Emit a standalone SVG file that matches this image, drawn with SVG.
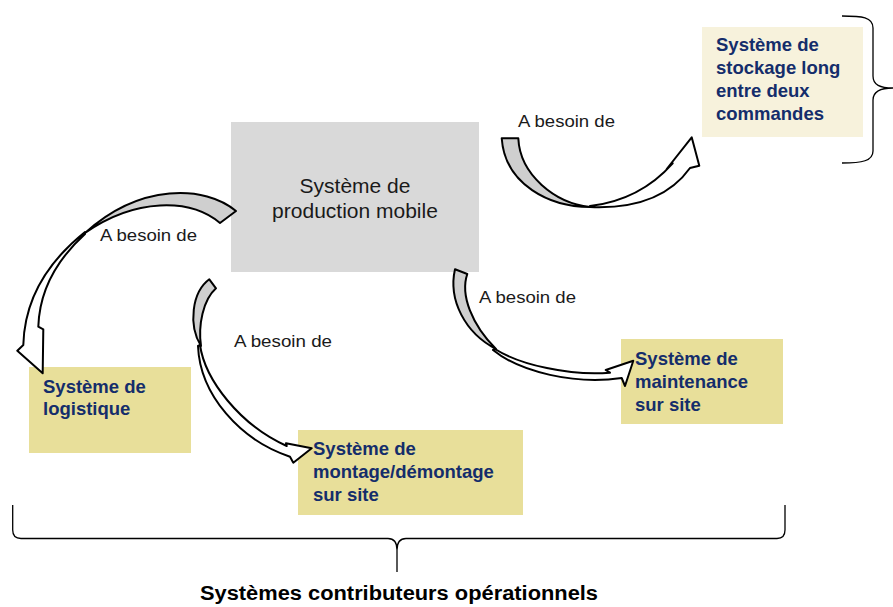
<svg xmlns="http://www.w3.org/2000/svg" width="893" height="607" viewBox="0 0 893 607">
<style>
.box{fill:#e8df9a}
.bt{font-family:"Liberation Sans",Arial,sans-serif;font-weight:bold;font-size:18.5px;fill:#142d6b}
.lbl{font-family:"Liberation Sans",Arial,sans-serif;font-size:16.5px;fill:#1a1a1a}
.body{fill:#ffffff;stroke:#000;stroke-width:2;stroke-linejoin:round}
.tail{fill:#cfcfcf;stroke:#000;stroke-width:2;stroke-linejoin:round}
.brace{fill:none;stroke:#000;stroke-width:1.3}
</style>
<rect width="893" height="607" fill="#ffffff"/>

<g id="production">
  <rect x="231" y="122" width="248" height="150" fill="#d9d9d9"/>
  <text x="355" y="193" text-anchor="middle" font-family="Liberation Sans, Arial, sans-serif" font-size="21" fill="#1a1a1a">Système de</text>
  <text x="355" y="218" text-anchor="middle" font-family="Liberation Sans, Arial, sans-serif" font-size="21" fill="#1a1a1a">production mobile</text>
</g>

<g id="stockage">
  <rect x="702" y="27" width="161" height="110" fill="#f7f2dc"/>
  <text class="bt" x="716" y="51">Système de</text>
  <text class="bt" x="716" y="74">stockage long</text>
  <text class="bt" x="716" y="97">entre deux</text>
  <text class="bt" x="716" y="120">commandes</text>
</g>

<g id="logistique">
  <rect class="box" x="29" y="367" width="162" height="86"/>
  <text class="bt" x="43" y="393">Système de</text>
  <text class="bt" x="43" y="415">logistique</text>
</g>

<g id="montage">
  <rect class="box" x="298" y="430" width="225" height="85"/>
  <text class="bt" x="313" y="455">Système de</text>
  <text class="bt" x="313" y="478">montage/démontage</text>
  <text class="bt" x="313" y="501">sur site</text>
</g>

<g id="maintenance">
  <rect class="box" x="621" y="339" width="162" height="85"/>
  <text class="bt" x="635" y="365">Système de</text>
  <text class="bt" x="635" y="388">maintenance</text>
  <text class="bt" x="635" y="411">sur site</text>
</g>

<g id="connectors">
  <!-- arrow to stockage -->
  <path class="body" d="M590,206 Q640,200 672.7,163.3 L666.7,169 L691.7,137.3 L699.3,165.7 L690,168 Q660,210 590,207 Z"/>
  <path class="tail" d="M501.7,138.3 L518.3,138.3 C520,175 555,203 590,207 C550,207 505,185 501.7,138.3 Z"/>
  <text class="lbl" x="518" y="127" textLength="97" lengthAdjust="spacingAndGlyphs">A besoin de</text>

  <!-- arrow to logistique -->
  <path class="body" d="M85,232 Q25,280 23.3,345 L17.3,350.7 L42.7,373.3 L43.3,329.3 L38.3,326.7 Q40,275 85,234 Z"/>
  <path class="tail" d="M236,211 L220,223 C190,198 135,198 85,233 C140,183 205,185 236,211 Z"/>
  <text class="lbl" x="100" y="241" textLength="97" lengthAdjust="spacingAndGlyphs">A besoin de</text>

  <!-- arrow to montage -->
  <path class="body" d="M200,345 C205,380 240,425 286.7,446 L286,443.3 L311.7,448.3 L293.3,462.7 L290,456.7 C240,440 200,395 198,346 Z"/>
  <path class="tail" d="M209.3,279.3 L216,288.3 C203,300 198,325 201,346 C188,325 192,292 209.3,279.3 Z"/>
  <text class="lbl" x="234" y="347" textLength="98" lengthAdjust="spacingAndGlyphs">A besoin de</text>

  <!-- arrow to maintenance -->
  <path class="body" d="M495,349 C520,365 570,376 610,372.7 L605.7,370 L633.3,360.7 L625,386 L621.7,378 C575,385 520,372 493,350 Z"/>
  <path class="tail" d="M455,269.3 L467.3,274 C460,295 472,325 496,349 C465,333 448,300 455,269.3 Z"/>
  <text class="lbl" x="479" y="303" textLength="97" lengthAdjust="spacingAndGlyphs">A besoin de</text>
</g>

<g id="brace-right">
  <path class="brace" d="M842,16 C862,16 873,17 873,28 L873,76 C873,85 880,88 893,88 C880,88 873,92 873,100 L873,151 C873,161 862,163 842,163"/>
</g>

<g id="brace-bottom">
  <path class="brace" d="M12.7,505 L12.7,530 Q12.7,538.5 21,538.5 L388,538.5 Q397,538.5 397,550 L397,572 M397,550 Q397,538.5 406,538.5 L777,538.5 Q785,538.5 785,530 L785,505"/>
  <text x="200" y="600" textLength="398" lengthAdjust="spacingAndGlyphs" font-family="Liberation Sans, Arial, sans-serif" font-weight="bold" font-size="20" fill="#000">Systèmes contributeurs opérationnels</text>
</g>
</svg>
